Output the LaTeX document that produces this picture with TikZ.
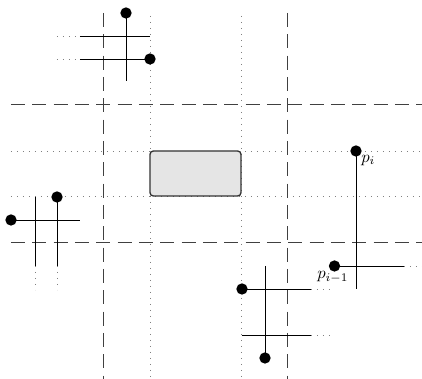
\documentclass[tikz,border=0pt]{standalone}
\begin{document}
\begin{tikzpicture}[x=0.6pt,y=-0.6pt,
  seg/.style={line width=0.55pt,black},
  dots/.style={line width=0.5pt,gray,dash pattern=on 0.5pt off 3.1pt},
  dashln/.style={line width=0.6pt,black!75,dash pattern=on 8.4pt off 4.4pt},
  dot/.style={circle,fill=black,inner sep=0pt,minimum size=6.8pt},
  lab/.style={anchor=base west,inner sep=0pt}]
\useasboundingbox (0,0) rectangle (422,379);
% dotted guide lines
\draw[dots] (150,16) -- (150,379);
\draw[dots] (241,16) -- (241,379);
\draw[dots] (11,151) -- (422,151);
\draw[dots] (11,196) -- (422,196);
% dashed lines
\draw[dashln] (104,13) -- (104,379);
\draw[dashln] (288,13) -- (288,379);
\draw[dashln] (11,105) -- (422,105);
\draw[dashln] (11,243) -- (422,243);
% box
\node[draw=black!80,line width=0.8pt,fill=black!10,rounded corners=2pt,
  minimum width=54.6pt,minimum height=27pt,inner sep=0pt] (box) at (195.5,173.5) {};
% top-left cluster
\node[dot] (t1) at (126,13) {};
\node[dot] (t2) at (150,59) {};
\coordinate (t1e) at (126,81);
\coordinate (h1a) at (80,36); \coordinate (h1b) at (150,36); \coordinate (h1d) at (57,36);
\coordinate (h2a) at (80,59); \coordinate (h2d) at (57,59);
\draw[seg] (t1.center) -- (t1e);
\draw[seg] (h1a) -- (h1b);
\draw[seg] (h2a) -- (t2.center);
\draw[dots] (h1d) -- (h1a);
\draw[dots] (h2d) -- (h2a);
% left cluster
\node[dot] (l1) at (11,220) {};
\node[dot] (l2) at (57,197) {};
\coordinate (l1e) at (80,220);
\coordinate (v1a) at (35,197); \coordinate (v1b) at (35,266); \coordinate (v1d) at (35,290);
\coordinate (v2b) at (57,266); \coordinate (v2d) at (57,290);
\draw[seg] (l1.center) -- (l1e);
\draw[seg] (v1a) -- (v1b);
\draw[seg] (l2.center) -- (v2b);
\draw[dots] (v1b) -- (v1d);
\draw[dots] (v2b) -- (v2d);
% right cluster
\node[dot] (pi) at (356,151) {};
\node[dot] (pim) at (334.5,266) {};
\coordinate (pie) at (356,289);
\coordinate (pime) at (404,266); \coordinate (pimd) at (422,266);
\draw[seg] (pi.center) -- (pie);
\draw[seg] (pim.center) -- (pime);
\draw[dots] (pime) -- (pimd);
\node[lab] (lpi) at (361,162.5) {$p_i$};
\node[lab] (lpim) at (317,279) {$p_{i-1}$};
% bottom cluster
\node[dot] (b1) at (242,289) {};
\node[dot] (b2) at (265,358) {};
\coordinate (b1e) at (311,289); \coordinate (b1d) at (334,289);
\coordinate (b2s) at (265,266);
\coordinate (b3a) at (242,335); \coordinate (b3b) at (311,335); \coordinate (b3d) at (334,335);
\draw[seg] (b1.center) -- (b1e);
\draw[seg] (b2s) -- (b2.center);
\draw[seg] (b3a) -- (b3b);
\draw[dots] (b1e) -- (b1d);
\draw[dots] (b3b) -- (b3d);
\end{tikzpicture}
\end{document}
